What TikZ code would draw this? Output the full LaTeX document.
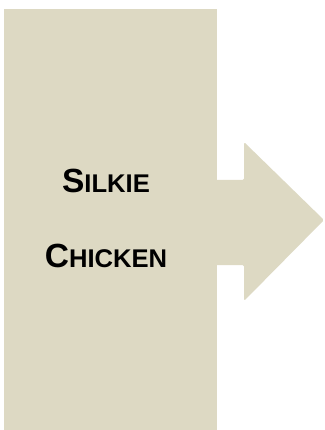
\documentclass[tikz,border=0pt]{standalone}
\usepackage{fontspec}
\setmainfont{Liberation Sans}
\usetikzlibrary{positioning}
\definecolor{khaki}{HTML}{DDD9C3}

% fake small caps: big first letter, smaller capitals after it
\newcommand\capfirst[1]{{\fontsize{33.5}{33.5}\selectfont #1}}
\newcommand\caprest[1]{{\fontsize{25.6}{25.6}\selectfont #1}}

\begin{document}
\begin{tikzpicture}[x=1pt, y=-1pt,
  panel/.style={fill=khaki, draw=none, inner sep=0pt},
  title/.style={font=\bfseries, inner sep=0pt, anchor=base}]
\useasboundingbox (0,0) rectangle (324,430);
% arrow pointing right, partly under the panel
\fill[khaki, rounded corners=1.5pt] (208,180) -- (244,180) -- (244,142)
  -- (324,220) -- (244,301) -- (244,265) -- (208,265) -- cycle;
\node[panel, minimum width=213pt, minimum height=421pt, anchor=north west]
  (box) at (4,9) {};
\node[title] (silkie) at (106,193) {\capfirst{S}\caprest{ILKIE}};
\node[title] (chicken) at (106,267) {\capfirst{C}\caprest{HICKEN}};
\end{tikzpicture}
\end{document}
